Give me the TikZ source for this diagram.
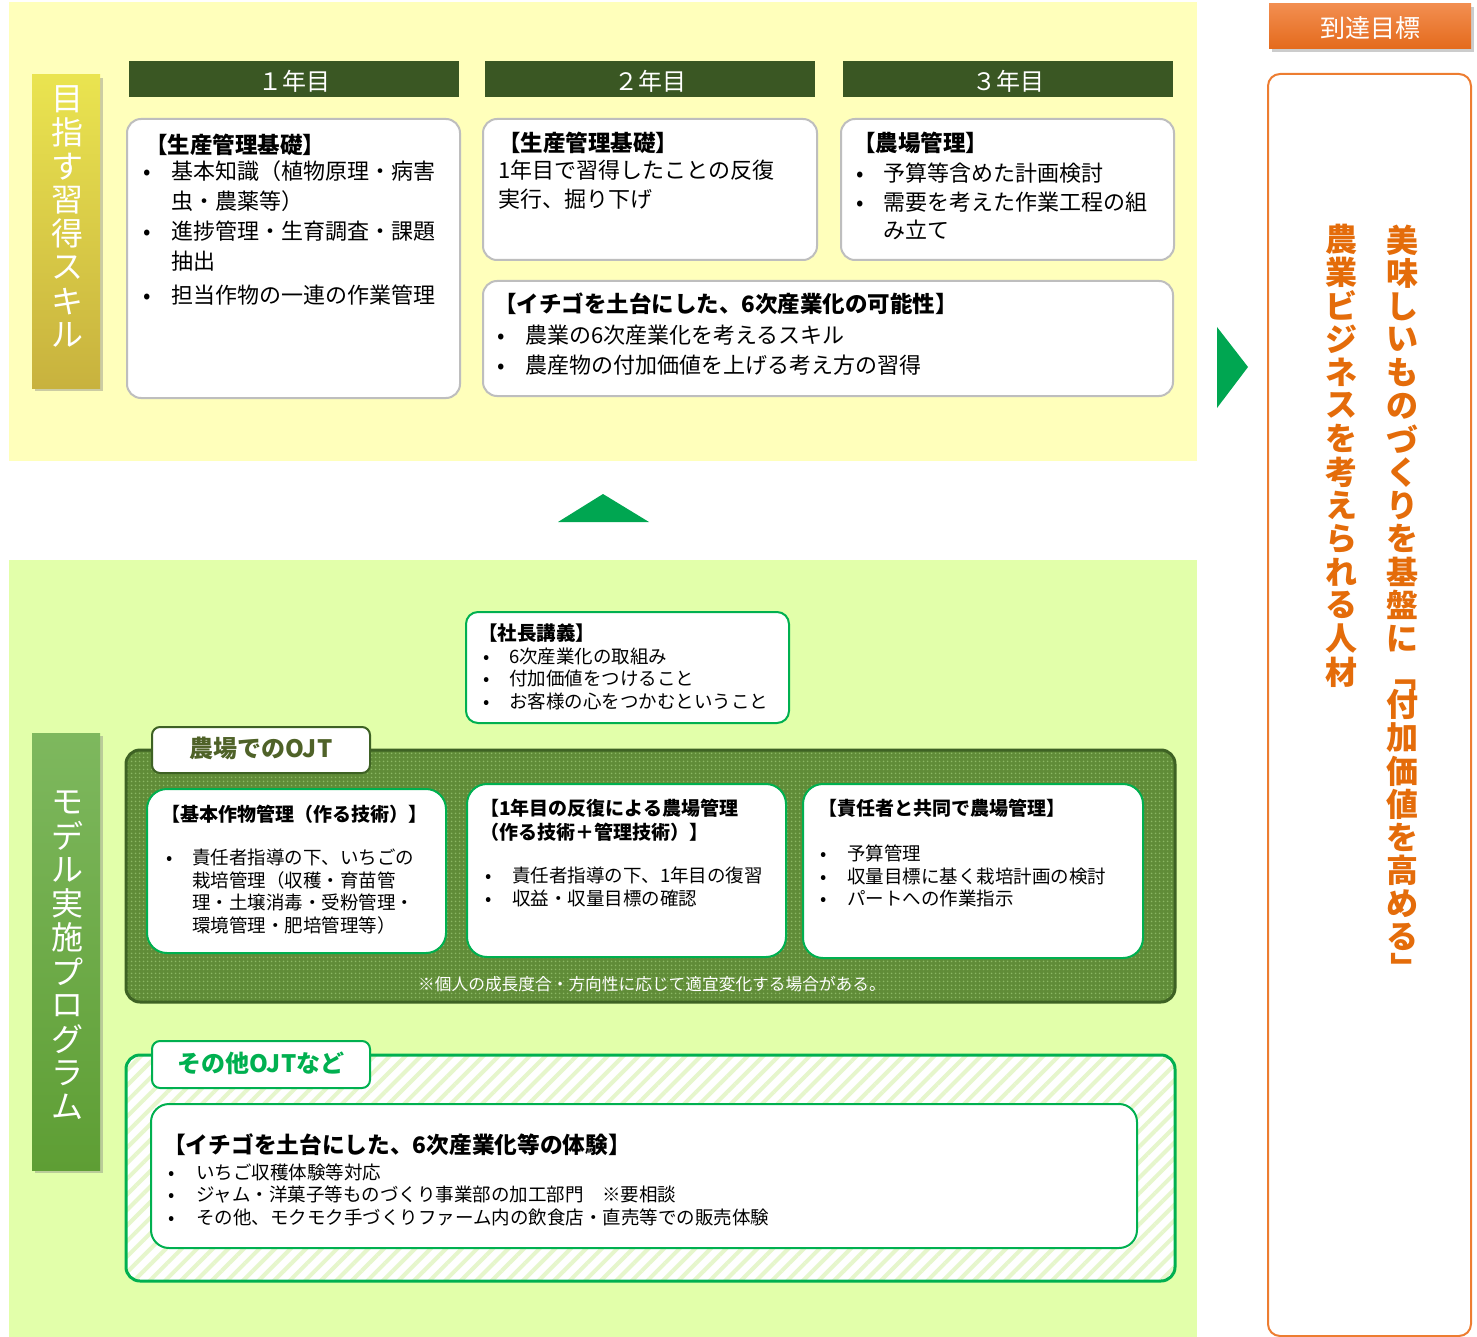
\documentclass[tikz,border=0pt]{standalone}
\usepackage{fontspec}
\setmainfont{Noto Sans CJK JP}
\usetikzlibrary{shadows,patterns.meta}
\definecolor{topyellow}{RGB}{255,255,187}
\definecolor{botgreen}{RGB}{226,255,170}
\definecolor{hdrgreen}{RGB}{58,87,35}
\definecolor{boxgrey}{RGB}{190,190,190}
\definecolor{boxgreen}{RGB}{0,176,80}
\definecolor{arrowgreen}{RGB}{0,166,81}
\definecolor{ojtdark}{RGB}{96,140,56}
\definecolor{ojtdot}{RGB}{140,184,100}
\definecolor{ojtborder}{RGB}{62,98,36}
\definecolor{ojttext}{RGB}{79,98,40}
\definecolor{stripe}{RGB}{230,246,204}
\definecolor{orangeline}{RGB}{237,125,49}
\definecolor{orangetext}{RGB}{228,108,10}
\definecolor{bartopY}{RGB}{234,228,80}
\definecolor{barbotY}{RGB}{200,178,62}
\definecolor{bartopG}{RGB}{126,184,94}
\definecolor{barbotG}{RGB}{94,158,52}
\definecolor{orangetop}{RGB}{242,142,80}
\definecolor{orangebot}{RGB}{228,106,28}
\newcommand\myfs[2]{\fontsize{#1pt}{#2pt}\selectfont}
\newcommand\myb[2][26]{\makebox[#1pt][l]{\hspace{0.3em}•}#2}
\newcommand\myc[2][26]{\hspace*{#1pt}#2}
\newcommand\mylow[1]{\raisebox{-2pt}[\height][\depth]{#1}}
\begin{document}
\begin{tikzpicture}[x=1pt,y=-1pt,
  txt/.style={anchor=north west, inner sep=0pt, align=left, text width=#1pt},
  yearhdr/.style={fill=hdrgreen, text=white, font=\myfs{24}{24}, inner sep=0pt, minimum width=330pt, minimum height=36pt},
  ybox/.style={draw=boxgrey, line width=2pt, fill=white, rounded corners=14pt},
  gbox/.style={draw=boxgreen, line width=2pt, fill=white, rounded corners=#1},
  gbox/.default=18pt,
  vchar/.style={inner sep=0pt, anchor=center},
  shad/.style={drop shadow={opacity=0.4, shadow xshift=3pt, shadow yshift=-3pt}},
  tab/.style={line width=2pt, fill=white, rounded corners=8pt}
]
\useasboundingbox (0,0) rectangle (1477,1337);
% backgrounds
\fill[topyellow] (9,2) rectangle (1197,461);
\fill[botgreen] (9,560) rectangle (1197,1337);

% left bars
\fill[top color=bartopY, bottom color=barbotY, shad] (32,75) rectangle (100,388);
\foreach \c [count=\i from 0] in {目,指,す,習,得,ス,キ,ル}
  \node[vchar, text=white, font=\myfs{32}{32}] (la\i) at (67,{99+33.7*\i}) {\c};
\fill[top color=bartopG, bottom color=barbotG, shad] (32,733) rectangle (100,1170);
\foreach \c [count=\i from 0] in {モ,デ,ル,実,施,プ,ロ,グ,ラ,ム}
  \node[vchar, text=white, font=\myfs{32}{32}] (lb\i) at (67,{802+33.9*\i}) {\c};

% year headers
\node[yearhdr] (y1) at (294,79) {\mylow{１年目}};
\node[yearhdr] (y2) at (650,79) {\mylow{２年目}};
\node[yearhdr] (y3) at (1008,79) {\mylow{３年目}};

% year boxes
\draw[ybox] (127,119) rectangle (460,398);
\draw[ybox] (483,119) rectangle (817,260);
\draw[ybox] (841,119) rectangle (1174,260);
\draw[ybox] (483,281) rectangle (1173,396);

\node[txt=320, font=\myfs{22}{30}] (t1) at (137,134)
 {\hspace*{8pt}{\bfseries\myfs{22.5}{30}【生産管理基礎】}\\[-4pt]
  \myb[34]{基本知識（植物原理・病害}\\
  \myc[34]{虫・農薬等）}\\
  \myb[34]{進捗管理・生育調査・課題}\\
  \myc[34]{抽出}\\[4pt]
  \myb[34]{担当作物の一連の作業管理}};
\node[txt=320, font=\myfs{22}{29}] (t2) at (498,132)
 {{\bfseries\myfs{22.5}{29}【生産管理基礎】}\\[-2pt]
  1年目で習得したことの反復\\
  実行、掘り下げ};
\node[txt=320, font=\myfs{22}{28.5}] (t3) at (850,132)
 {\hspace*{3pt}{\bfseries\myfs{22.5}{28.5}【農場管理】}\\[1.5pt]
  \myb[33]{予算等含めた計画検討}\\
  \myb[33]{需要を考えた作業工程の組}\\
  \myc[33]{み立て}};
\node[txt=680, font=\myfs{22}{30.5}] (t4) at (491,293)
 {\hspace*{3pt}{\bfseries\myfs{22.5}{30.5}【イチゴを土台にした、6次産業化の可能性】}\\
  \myb[34]{農業の6次産業化を考えるスキル}\\
  \myb[34]{農産物の付加価値を上げる考え方の習得}};

% arrows
\fill[arrowgreen] (1217,327) -- (1248,367) -- (1217,408) -- cycle;
\fill[arrowgreen] (558,522) -- (603,494) -- (649,522) -- cycle;

% goal column
\node[top color=orangetop, bottom color=orangebot, shad, text=white, font=\myfs{25}{25},
      minimum width=202pt, minimum height=45pt, inner sep=0pt] (goal) at (1370,26.5) {\mylow{到達目標}};
\draw[draw=orangeline, line width=2pt, fill=white, rounded corners=12pt] (1268,74) rectangle (1471,1336);
\foreach \c [count=\i from 0] in {美,味,し,い,も,の,づ,く,り,を,基,盤,に}
  \node[vchar, text=orangetext, font=\bfseries\myfs{32}{32}] (ra\i) at (1402,{240+33.2*\i}) {\c};
\node[vchar, text=orangetext, font=\bfseries\myfs{32}{32}, rotate=-90] (rbrA) at (1402,675) {「};
\foreach \c [count=\i from 14] in {付,加,価,値,を,高,め,る}
  \node[vchar, text=orangetext, font=\bfseries\myfs{32}{32}] (ra\i) at (1402,{240+33.2*\i}) {\c};
\node[vchar, text=orangetext, font=\bfseries\myfs{32}{32}, rotate=-90] (rbrB) at (1402,968) {」};
\foreach \c [count=\i from 0] in {農,業,ビ,ジ,ネ,ス,を,考,え,ら,れ,る,人,材}
  \node[vchar, text=orangetext, font=\bfseries\myfs{32}{32}] (rb\i) at (1341,{239+33.3*\i}) {\c};

% president lecture
\draw[gbox=12pt] (466,612) rectangle (789,723);
\node[txt=300, font=\myfs{18.5}{22.5}] (pres) at (478,624)
 {{\bfseries\myfs{19.5}{22.5}【社長講義】}\\
  \myb[31]{6次産業化の取組み}\\
  \myb[31]{付加価値をつけること}\\
  \myb[31]{お客様の心をつかむということ}};

% OJT container
\fill[ojtdark, rounded corners=14pt] (126,750) rectangle (1175,1002);
\path[pattern={Dots[radius=1.1pt, distance=4pt]}, pattern color=ojtdot, rounded corners=14pt] (126,750) rectangle (1175,1002);
\draw[ojtborder, line width=3pt, rounded corners=14pt] (126,750) rectangle (1175,1002);
\draw[tab, draw=ojtborder] (152,727) rectangle (370,773);
\node[font=\bfseries\myfs{24}{24}, text=ojttext, inner sep=0pt] (tab1) at (261,748) {農場でのOJT};

\draw[gbox=20pt] (147,789) rectangle (446,953);
\draw[gbox=20pt] (467,784) rectangle (786,957);
\draw[gbox=20pt] (803,784) rectangle (1143,958);
\node[txt=290, font=\myfs{18.5}{22.7}] (oa) at (161,805)
 {{\bfseries\myfs{19}{22.7}【基本作物管理（作る技術）】}\\[20pt]
  \myb[31]{責任者指導の下、いちごの}\\
  \myc[31]{栽培管理（収穫・育苗管}\\
  \myc[31]{理・土壌消毒・受粉管理・}\\
  \myc[31]{環境管理・肥培管理等）}};
\node[txt=310, font=\myfs{18.5}{23.5}] (ob) at (480,799)
 {{\bfseries\myfs{19}{23.5}【1年目の反復による農場管理}\\
  {\bfseries\myfs{19}{23.5}（作る技術＋管理技術）】}\\[19.5pt]
  \myb[32]{責任者指導の下、1年目の復習}\\
  \myb[32]{収益・収量目標の確認}};
\node[txt=320, font=\myfs{18.5}{22.5}] (oc) at (815,799)
 {\hspace*{3pt}{\bfseries\myfs{19}{22.5}【責任者と共同で農場管理】}\\[22.5pt]
  \myb[32]{予算管理}\\
  \myb[32]{収量目標に基く栽培計画の検討}\\
  \myb[32]{パートへの作業指示}};
\node[text=white, font=\myfs{16.7}{16.7}, inner sep=0pt] (note) at (652,984) {※個人の成長度合・方向性に応じて適宜変化する場合がある。};

% other OJT container
\fill[white, rounded corners=14pt] (126,1055) rectangle (1175,1281);
\path[pattern={Lines[angle=45, distance=11pt, line width=4pt]}, pattern color=stripe, rounded corners=14pt] (126,1055) rectangle (1175,1281);
\draw[boxgreen, line width=3pt, rounded corners=14pt] (126,1055) rectangle (1175,1281);
\draw[tab, draw=boxgreen] (152,1041) rectangle (370,1088);
\node[font=\bfseries\myfs{24}{24}, text=boxgreen, inner sep=0pt] (tab2) at (261,1063) {その他OJTなど};
\draw[gbox=18pt] (151,1104) rectangle (1137,1248);
\node[txt=900, font=\myfs{18.5}{22.5}] (od) at (163,1133)
 {{\bfseries\myfs{22.7}{22.5}【イチゴを土台にした、6次産業化等の体験】}\\[3.5pt]
  \myb[33]{いちご収穫体験等対応}\\
  \myb[33]{ジャム・洋菓子等ものづくり事業部の加工部門　※要相談}\\
  \myb[33]{その他、モクモク手づくりファーム内の飲食店・直売等での販売体験}};
\end{tikzpicture}
\end{document}
